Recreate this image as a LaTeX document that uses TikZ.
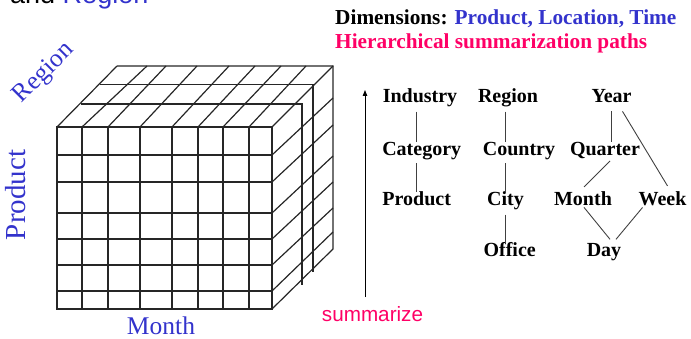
\documentclass[tikz,border=0pt]{standalone}
\usepackage{fontspec}
\setmainfont{Liberation Serif}
\newfontfamily\sansf{Liberation Sans}
\usepackage{tikz}
\usetikzlibrary{positioning,arrows.meta,calc}
\definecolor{dimc}{HTML}{3333CC}
\definecolor{sumc}{HTML}{FF0066}
\tikzset{
  lvl/.style={font=\fontsize{20}{24}\selectfont\bfseries,inner sep=0pt,anchor=base},
  hd/.style={font=\fontsize{21.3}{25}\selectfont\bfseries,inner sep=0pt,anchor=base west},
  axis/.style={font=\fontsize{25.5}{30}\selectfont,text=dimc,inner sep=0pt},
  link/.style={black!75,line width=0.9pt},
  cube/.style={black!85,line width=1.2pt},
  arr/.style={-{Triangle[length=6pt,width=4.5pt]},line width=0.9pt},
}

\begin{document}
\begin{tikzpicture}[x=1pt,y=-1pt]
\useasboundingbox (0,0) rectangle (691,339);
% title line, cut by the top edge
\node[inner sep=0pt,anchor=base west,font=\sansf\fontsize{27}{30}\selectfont] (ttl) at (10,4) {and \textcolor{dimc}{Region}};
% the cube
\draw[cube] (57,127) rectangle (272,309);
\draw[cube] (82,127) -- (82,309) (108,127) -- (108,309) (140,127) -- (140,309) (172,127) -- (172,309)
  (198,127) -- (198,309) (223,127) -- (223,309) (249,127) -- (249,309);
\draw[cube] (57,155) -- (272,155) (57,182) -- (272,182) (57,213) -- (272,213) (57,239) -- (272,239)
  (57,265) -- (272,265) (57,291) -- (272,291);
\draw[cube] (57,127) -- (117,66) (82,127) -- (147,66) (108,127) -- (166,66) (140,127) -- (197,66)
  (172,127) -- (229,66) (198,127) -- (255,66) (223,127) -- (281,66) (249,127) -- (306,66) (272,127) -- (333,66);
\draw[cube] (117,66) -- (333,66) -- (333,249) -- (272,309);
\draw[cube] (81,104) -- (302,104) -- (302,285) (100,84.5) -- (313,84.5) -- (313,272);
\draw[cube] (272,155) -- (333,98) (272,182) -- (333,125) (272,213) -- (333,156) (272,239) -- (333,182)
  (272,265) -- (333,208) (272,291) -- (333,232);
% axis labels
\node[axis,rotate=45] (rgl) at (44,73) {Region};
\node[axis,rotate=90,anchor=base,font=\fontsize{29}{32}\selectfont] (prl) at (25,195) {Product};
\node[axis,anchor=base] (mtl) at (161,334) {Month};
% headings
\node[hd] (dim) at (335,25) {Dimensions: \textcolor{dimc}{Product, Location, Time}};
\node[hd,text=sumc] (hie) at (335,48.3) {Hierarchical summarization paths};
% product
\node[lvl] (ind) at (420,103) {Industry};
\node[lvl] (cat) at (421.7,155.5) {Category};
\node[lvl] (prd) at (416.7,206) {Product};
% location
\node[lvl] (reg) at (508,103) {Region};
\node[lvl] (cou) at (519,155.5) {Country};
\node[lvl] (cit) at (505.5,206) {City};
\node[lvl] (off) at (509.7,257) {Office};
% time
\node[lvl] (yea) at (611.5,103) {Year};
\node[lvl] (qua) at (605,155.5) {Quarter};
\node[lvl] (mon) at (583,206) {Month};
\node[lvl] (wee) at (662.5,206) {Week};
\node[lvl] (day) at (604,257) {Day};
\draw[link,shorten <=4pt] (prd |- ind.south) -- (prd |- cat.north);
\draw[link,shorten <=3pt] (prd |- cat.south) -- (prd.north);
\draw[link,shorten <=4pt] (cit |- reg.south) -- (cit |- cou.north);
\draw[link,shorten <=3pt] (cit |- cou.south) -- (cit.north);
\draw[link,shorten <=4pt] (cit.south) -- (cit.south |- off.north);
\draw[link,shorten <=8pt] (yea.south) -- (yea.south |- qua.north);
\draw[link] ($(yea.south)+(11,8)$) -- ($(wee.north)+(5,-6)$);
\draw[link] ($(qua.south)+(5,2)$) -- ($(mon.north)+(1,-5)$);
\draw[link] ($(mon.south)+(1,1)$) -- ($(day.north)+(6,-4.4)$);
\draw[link] ($(wee.south)+(-20,1)$) -- ($(day.north)+(12,-4.4)$);
% summarize arrow
\coordinate (lo) at (365,297);
\coordinate (hi) at (365,90);
\draw[arr] (lo) -- (hi);
\node[inner sep=0pt,anchor=base west,text=sumc,font=\sansf\fontsize{20.7}{24}\selectfont] (sum) at (321.7,321.7) {summarize};
\end{tikzpicture}
\end{document}
